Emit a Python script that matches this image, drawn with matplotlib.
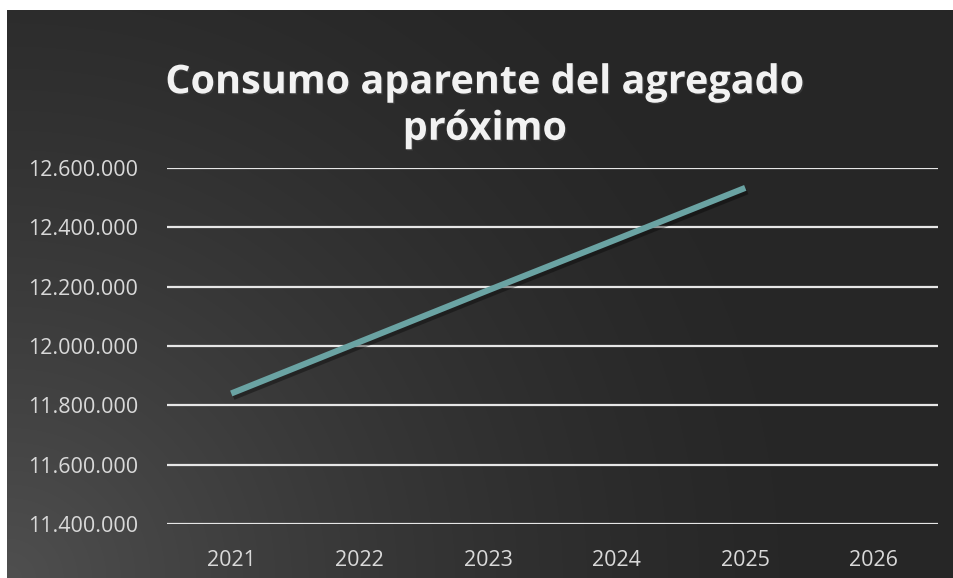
import numpy as np
import matplotlib.pyplot as plt
import matplotlib.patheffects as pe
from matplotlib.ticker import FuncFormatter

# datos
anios = ['2021', '2022', '2023', '2024', '2025', '2026']
consumo = [11840000, 12014000, 12188000, 12360000, 12533000, np.nan]

titulo = 'Consumo aparente del agregado\npróximo'

plt.rcParams['font.family'] = ['Open Sans', 'DejaVu Sans']

fig = plt.figure(figsize=(9.54, 5.78), dpi=100, facecolor='white')

# fondo oscuro con degradado radial (más claro abajo a la izquierda)
bg = fig.add_axes([7 / 954, 0, 947 / 954, 568 / 578], zorder=0)
h, w = 300, 500
yy, xx = np.mgrid[0:h, 0:w]
r = np.sqrt((xx / w * 1.6) ** 2 + ((h - yy) / h) ** 2)
val = 0.15 + 0.16 * np.clip(1 - r / 1.4, 0, 1) ** 1.5
img = np.dstack([val, val, val])
bg.imshow(img, aspect='auto', extent=[0, 1, 0, 1], interpolation='bilinear')
bg.axis('off')

ax = fig.add_axes([167 / 954, 1 - 524 / 578, 771 / 954, 356 / 578], zorder=1)
ax.patch.set_alpha(0)

x = np.arange(len(anios))
ax.plot(x, consumo, color='#6aa3a3', lw=4.4, solid_capstyle='butt', zorder=3,
        path_effects=[pe.SimpleLineShadow(offset=(1.5, -2.5), shadow_color='black', alpha=0.35),
                      pe.Normal()])

ax.set_xlim(-0.5, len(anios) - 0.5)
ax.set_ylim(11400000, 12600000)
ax.set_yticks(np.arange(11400000, 12600001, 200000))
ax.yaxis.set_major_formatter(FuncFormatter(lambda v, p: f'{v:,.0f}'.replace(',', '.')))
ax.set_xticks(x)
ax.set_xticklabels(anios)

ax.grid(axis='y', color='#e6e6e6', lw=1.6)
ax.set_axisbelow(True)
for s in ax.spines.values():
    s.set_visible(False)
ax.tick_params(length=0, colors='#d9d9d9', labelsize=15.5)
ax.tick_params(axis='y', pad=21)
ax.tick_params(axis='x', pad=19)

fig.text(485 / 954, 1 - 106 / 578, titulo, ha='center', va='center', fontsize=28.5,
         fontweight='bold', color='#f2f2f2', linespacing=1.25,
         path_effects=[pe.withSimplePatchShadow(offset=(1, -1), alpha=0.5)])

fig.savefig('out.png', dpi=100, facecolor='white')
